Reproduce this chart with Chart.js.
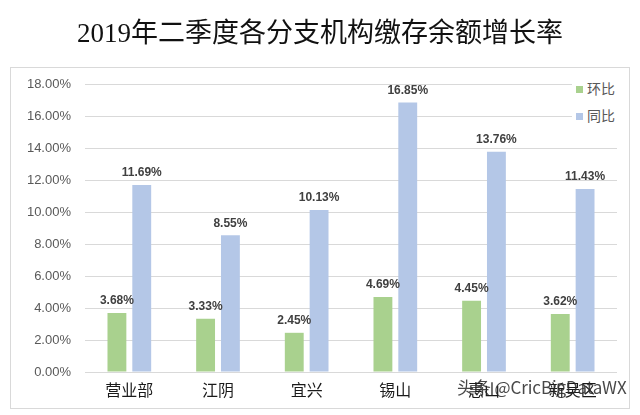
<!DOCTYPE html>
<html>
<head>
<meta charset="utf-8">
<script src="https://cdn.jsdelivr.net/npm/chart.js@4/dist/chart.umd.min.js"></script>
<style>
  html, body { margin: 0; padding: 0; background: #fff; }
  #wrap { position: relative; width: 640px; height: 415px; overflow: hidden; }
  #c { position: absolute; left: 0; top: 0; }
  #title { position: absolute; left: 0; top: 11px; width: 640px; text-align: center; white-space: nowrap;
    font-family: "Liberation Serif", "Noto Sans CJK SC", serif; font-size: 27px; color: #111; }
  #legend { position: absolute; left: 572px; top: 73px; background: #fff; padding: 2px 8px 2px 4px;
    font-family: "Noto Sans CJK SC", sans-serif; font-size: 14px; color: #595959; line-height: 27px; }
  #legend span.sw { display: inline-block; width: 7px; height: 7px; margin-right: 4px; vertical-align: 1px; }
  #wm { position: absolute; left: 457px; top: 374px; font-family: "Noto Sans CJK SC", sans-serif; white-space: nowrap;
    font-size: 17px; color: rgba(40,40,40,0.85); letter-spacing: -0.1px; }
</style>
</head>
<body>
<div id="wrap">
  <canvas id="c" width="640" height="415"></canvas>
  <div id="title">2019年二季度各分支机构缴存余额增长率</div>
  <div id="legend">
    <div><span class="sw" style="background:#A9D18E"></span>环比</div>
    <div><span class="sw" style="background:#B4C7E7"></span>同比</div>
  </div>
  <div id="wm">头条 @CricBigDataWX</div>
</div>
<script>
const categories = ["营业部", "江阴", "宜兴", "锡山", "惠山", "新吴区"];
const seriesNames = ["环比", "同比"];
const momValues = [3.68, 3.33, 2.45, 4.69, 4.45, 3.62];
const yoyValues = [11.69, 8.55, 10.13, 16.85, 13.76, 11.43];
const yTicks = [0, 2, 4, 6, 8, 10, 12, 14, 16, 18];

const frame = {
  id: 'frame',
  beforeDraw(chart) {
    const ctx = chart.ctx;
    ctx.save();
    ctx.strokeStyle = '#d9d9d9';
    ctx.lineWidth = 1;
    ctx.strokeRect(10.5, 67.5, 619, 341);
    ctx.restore();
  }
};

const valueLabels = {
  id: 'valueLabels',
  afterDatasetsDraw(chart) {
    const ctx = chart.ctx;
    ctx.save();
    ctx.font = 'bold 12px "Liberation Sans", "Open Sans", sans-serif';
    ctx.fillStyle = '#404040';
    ctx.textAlign = 'center';
    ctx.textBaseline = 'bottom';
    chart.data.datasets.forEach((ds, i) => {
      const meta = chart.getDatasetMeta(i);
      meta.data.forEach((bar, j) => {
        ctx.fillText(ds.data[j].toFixed(2) + '%', bar.x, bar.y - 6);
      });
    });
    ctx.restore();
  }
};

new Chart(document.getElementById('c'), {
  type: 'bar',
  data: {
    labels: categories,
    datasets: [
      { label: seriesNames[0], data: momValues, backgroundColor: '#A9D18E' },
      { label: seriesNames[1], data: yoyValues, backgroundColor: '#B4C7E7' }
    ]
  },
  options: {
    responsive: false,
    animation: false,
    devicePixelRatio: 1,
    layout: { padding: { left: 10, right: 23, top: 84, bottom: 13 } },
    plugins: { legend: { display: false }, tooltip: { enabled: false }, title: { display: false } },
    datasets: { bar: { categoryPercentage: 0.56, barPercentage: 0.76 } },
    scales: {
      x: {
        grid: { display: false },
        border: { display: false },
        ticks: { color: '#1a1a1a', font: { family: '"Noto Sans CJK SC", sans-serif', size: 16 }, padding: 0 },
        afterFit(scale) { scale.height = 30; }
      },
      y: {
        min: 0, max: 18,
        afterBuildTicks(scale) { scale.ticks = yTicks.map(v => ({ value: v })); },
        grid: { color: '#d9d9d9', drawTicks: false },
        border: { display: false },
        ticks: {
          color: '#595959',
          font: { family: '"Liberation Sans", "Open Sans", sans-serif', size: 13 },
          padding: 14,
          callback: v => Number(v).toFixed(2) + '%'
        },
        afterFit(scale) { scale.width = 75; }
      }
    }
  },
  plugins: [frame, valueLabels]
});
</script>
</body>
</html>
